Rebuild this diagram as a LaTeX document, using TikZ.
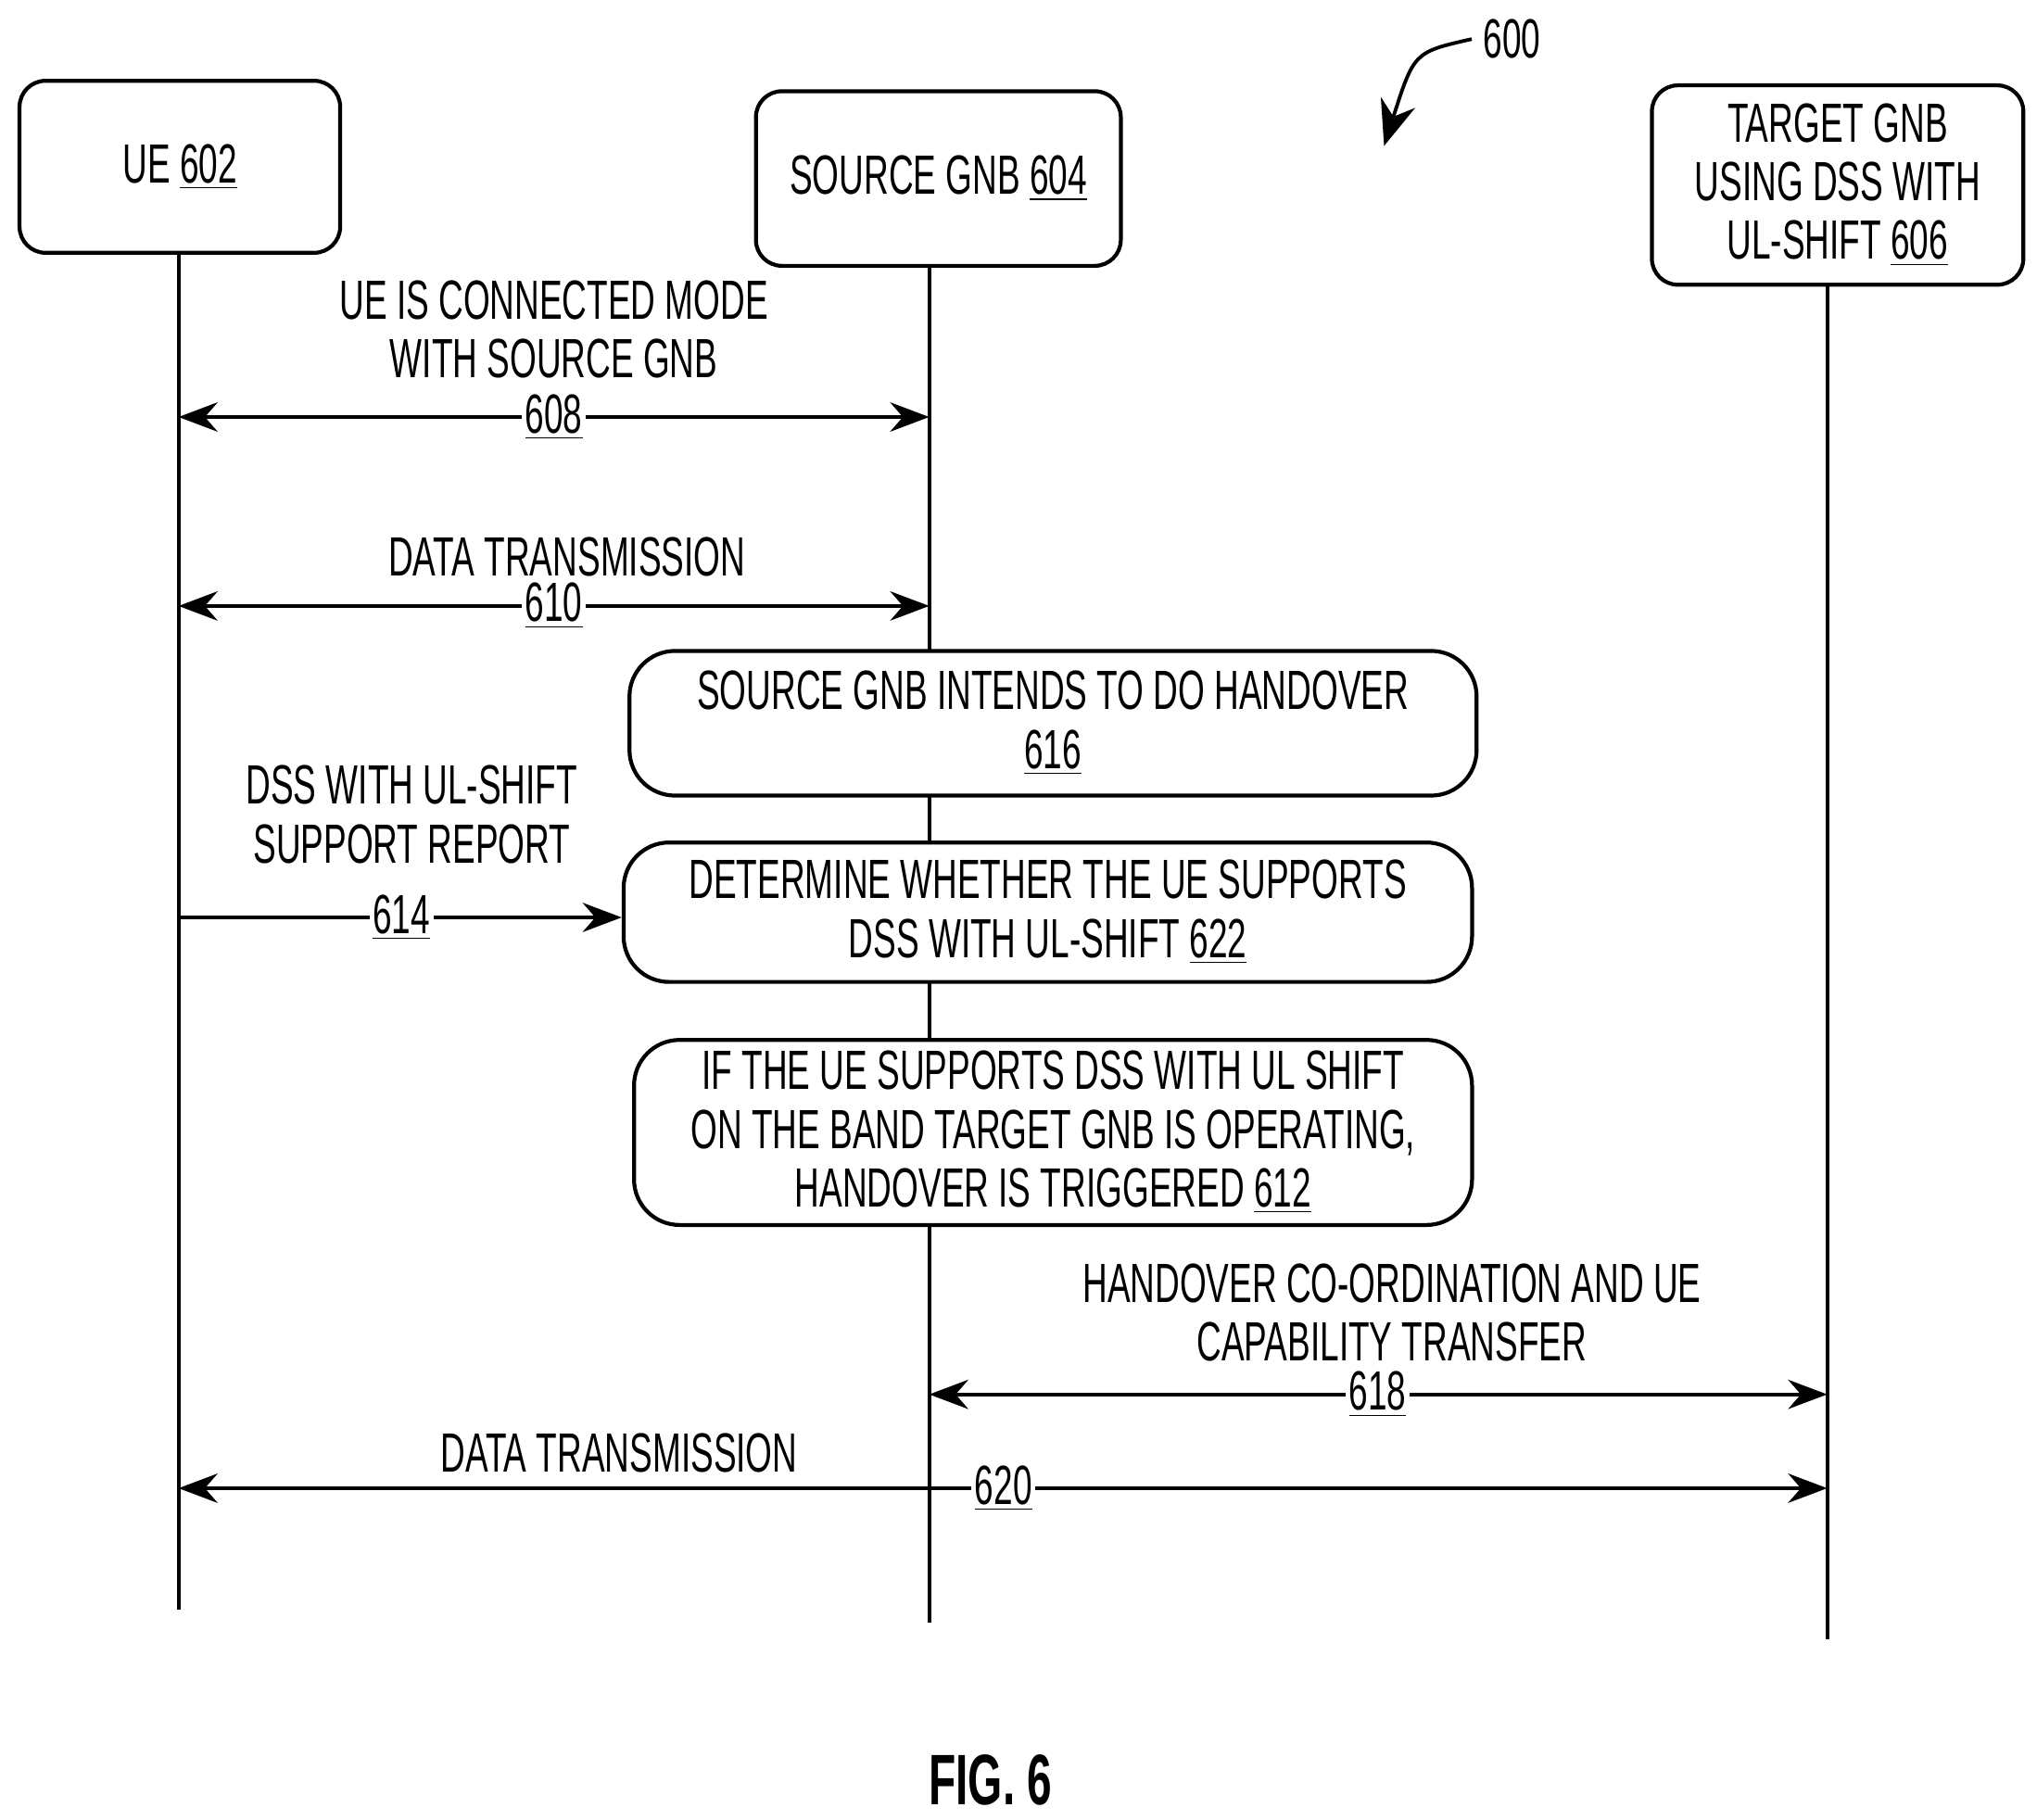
\documentclass[tikz,border=0pt]{standalone}
\usepackage{fontspec}
\setmainfont{Liberation Sans}[FakeStretch=0.62]
\usetikzlibrary{arrows.meta,positioning}
\tikzset{
  ent/.style={draw, rounded corners=8pt, line width=1.2pt, fill=white, align=center, inner sep=0pt},
  stepbox/.style={draw, rounded corners=14pt, line width=1.2pt, fill=white, align=center, inner sep=0pt},
  msg/.style={line width=1.1pt, {Stealth[length=12pt,width=9pt]}-{Stealth[length=12pt,width=9pt]}},
  num/.style={fill=white, inner sep=1pt},
  lbl/.style={align=center}
}
\newcommand{\ul}[1]{\underline{#1}}
\begin{document}
\begin{tikzpicture}[x=0.01408cm,y=-0.01408cm,font=\fontsize{17}{18}\selectfont]
\useasboundingbox (0,0) rectangle (1563,1396);
% entities
\node[ent, minimum width=246*0.01408cm, minimum height=132*0.01408cm] (ue) at (138,128) {UE \ul{602}};
\node[ent, minimum width=280*0.01408cm, minimum height=134*0.01408cm] (src) at (720,137) {SOURCE GNB \ul{604}};
\node[ent, minimum width=285*0.01408cm, minimum height=153*0.01408cm] (tgt) at (1410,142) {TARGET GNB\\USING DSS WITH\\UL-SHIFT \ul{606}};
% lifelines
\coordinate (ueend) at (137,1235);
\coordinate (srcend) at (713,1245);
\coordinate (tgtend) at (1402,1258);
\draw[line width=1.1pt] (137,194) -- (ueend);
\draw[line width=1.1pt] (713,204) -- (srcend);
\draw[line width=1.1pt] (1402,219) -- (tgtend);
% 600
\node (fig) at (1160,30) {600};
\draw[line width=1.1pt, -{Stealth[length=14pt,width=11pt]}] (fig.west) .. controls (1085,40) .. (1062,112);
% 608
\draw[msg] (137,320) -- (713,320);
\node[num] (n608) at (425,320) {\ul{608}};
\node[lbl] (l608) at (425,253) {UE IS CONNECTED MODE\\WITH SOURCE GNB};
% 610
\draw[msg] (137,465) -- (713,465);
\node[num] (n610) at (425,465) {\ul{610}};
\node[lbl] (l610) at (435,427) {DATA TRANSMISSION};
% steps
\node[stepbox, minimum width=650*0.01408cm, minimum height=111*0.01408cm] (s616) at (808,555) {SOURCE GNB INTENDS TO DO HANDOVER\\\ul{616}};
\node[stepbox, minimum width=651*0.01408cm, minimum height=107*0.01408cm] (s622) at (804,700) {DETERMINE WHETHER THE UE SUPPORTS\\DSS WITH UL-SHIFT \ul{622}};
\node[stepbox, minimum width=643*0.01408cm, minimum height=142*0.01408cm] (s612) at (808,869) {IF THE UE SUPPORTS DSS WITH UL SHIFT\\ON THE BAND TARGET GNB IS OPERATING,\\HANDOVER IS TRIGGERED \ul{612}};
% 614
\draw[line width=1.1pt, -{Stealth[length=12pt,width=9pt]}] (137,704) -- (s622.west |- 0,704);
\node[num] (n614) at (308,704) {\ul{614}};
\node[lbl] (l614) at (316,625) {DSS WITH UL-SHIFT\\SUPPORT REPORT};
% 618
\draw[msg] (713,1070) -- (1402,1070);
\node[num] (n618) at (1057,1070) {\ul{618}};
\node[lbl] (l618) at (1068,1007) {HANDOVER CO-ORDINATION AND UE\\CAPABILITY TRANSFER};
% 620
\draw[msg] (137,1142) -- (1402,1142);
\node[num] (n620) at (770,1142) {\ul{620}};
\node[lbl] (l620) at (475,1115) {DATA TRANSMISSION};
\node[font=\fontsize{22}{26}\selectfont\bfseries] (cap) at (760,1366) {FIG. 6};
\end{tikzpicture}
\end{document}
